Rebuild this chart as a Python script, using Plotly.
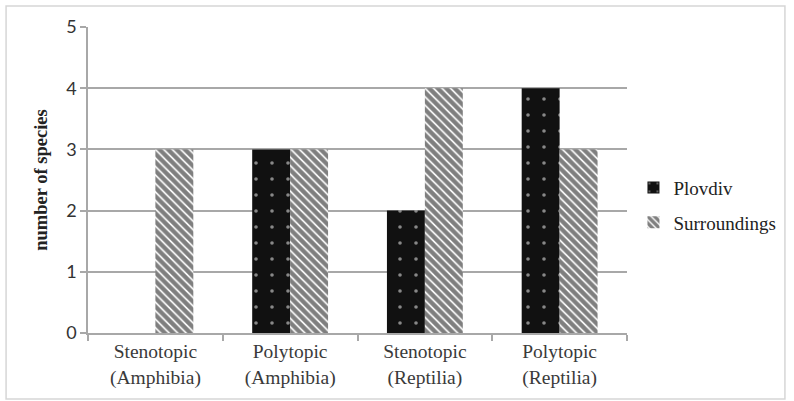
import plotly.graph_objects as go

# Ecological groups of amphibians and reptiles
categories = ["Stenotopic<br>(Amphibia)", "Polytopic<br>(Amphibia)",
              "Stenotopic<br>(Reptilia)", "Polytopic<br>(Reptilia)"]
plovdiv = [0, 3, 2, 4]
surroundings = [3, 3, 4, 3]
y_ticks = [0, 1, 2, 3, 4, 5]

serif = "Liberation Serif, Times New Roman, serif"
sans = "Lato, Carlito, Liberation Sans, sans-serif"
grid = "#a8a8a8"

fig = go.Figure()
fig.add_trace(go.Bar(
    x=categories, y=plovdiv, name="Plovdiv", legendgroup="a",
    marker=dict(color="#111111", line=dict(width=0),
                pattern=dict(shape=".", fgcolor="white", bgcolor="#111111",
                             size=16, solidity=0.04, fillmode="overlay")),
))
fig.add_trace(go.Bar(
    x=categories, y=surroundings, name="Surroundings", legendgroup="b",
    marker=dict(color="white", line=dict(width=0),
                pattern=dict(shape="\\", fgcolor="#000000", bgcolor="white",
                             size=6, solidity=0.72, fillmode="overlay")),
))

# outer frame of the chart
fig.add_shape(type="rect", xref="paper", yref="paper",
              x0=-0.152, x1=1.293, y0=-0.2157, y1=1.0686,
              line=dict(color="#d6d6d6", width=1.5), fillcolor="rgba(0,0,0,0)",
              layer="below")

fig.update_layout(
    width=794, height=401,
    margin=dict(l=88, r=167, t=27, b=68, autoexpand=False),
    paper_bgcolor="white", plot_bgcolor="white",
    barmode="group", bargap=0.437, bargroupgap=0,
    showlegend=True,
    legend=dict(x=1.012, y=0.418, xanchor="left", yanchor="middle",
                font=dict(family=serif, size=19, color="#222222"),
                tracegroupgap=7, itemwidth=30, bgcolor="rgba(0,0,0,0)"),
    xaxis=dict(showline=True, linecolor=grid, linewidth=1.5,
               ticks="outside", tickson="boundaries", ticklen=6,
               tickcolor=grid, tickwidth=1.5,
               tickfont=dict(family=serif, size=19.5, color="#3a3a3a"),
               showgrid=False),
    yaxis=dict(range=[0, 5], tickvals=y_ticks,
               showgrid=True, gridcolor=grid, gridwidth=1.5,
               showline=True, linecolor=grid, linewidth=1.5,
               ticks="outside", ticklen=6, tickcolor=grid, tickwidth=1.5,
               tickfont=dict(family=sans, size=18, color="#333333"),
               zeroline=False,
               title=dict(text="<b>number of species</b>", standoff=14,
                          font=dict(family=serif, size=18.5, color="#222222"))),
)

fig.write_html("out.html")
